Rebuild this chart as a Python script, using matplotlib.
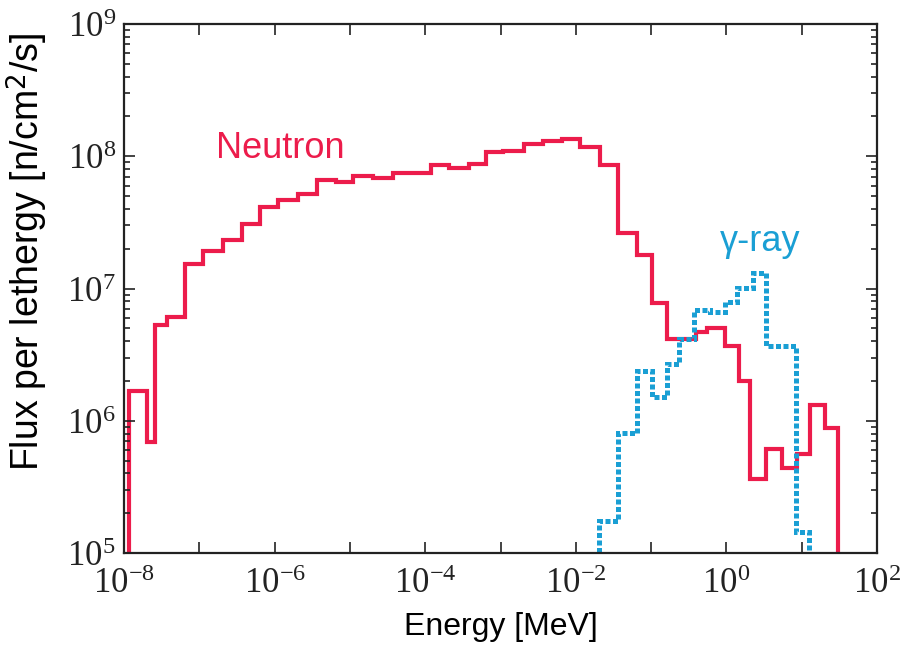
import matplotlib
matplotlib.use("Agg")
import matplotlib.pyplot as plt
from matplotlib.ticker import LogLocator, FuncFormatter, NullLocator
import numpy as np

plt.rcParams['font.family'] = ['Liberation Sans', 'DejaVu Sans']
plt.rcParams['mathtext.fontset'] = 'custom'
plt.rcParams['mathtext.rm'] = 'Liberation Serif'
plt.rcParams['mathtext.it'] = 'Liberation Serif:italic'

# bin edges given as log10(E / MeV), flux per lethargy in n/cm2/s
neutron_log_edges = [-7.930, -7.699, -7.588, -7.433, -7.190, -6.947, -6.689, -6.437,
                     -6.194, -5.951, -5.685, -5.433, -5.185, -4.955, -4.689, -4.432,
                     -4.162, -3.927, -3.680, -3.418, -3.193, -2.963, -2.688, -2.440,
                     -2.187, -1.944, -1.679, -1.436, -1.191, -0.992, -0.793, -0.404,
                     -0.262, -0.019, 0.171, 0.313, 0.526, 0.734, 0.934, 1.110,
                     1.309, 1.486]
neutron_flux = [1.69e6, 6.85e5, 5.34e6, 6.1e6, 1.54e7, 1.92e7, 2.31e7, 3.09e7,
                4.13e7, 4.7e7, 5.2e7, 6.58e7, 6.43e7, 7.05e7, 6.85e7, 7.48e7,
                7.5e7, 8.65e7, 8.15e7, 8.8e7, 1.07e8, 1.09e8, 1.23e8, 1.31e8,
                1.34e8, 1.18e8, 8.55e7, 2.61e7, 1.78e7, 7.83e6, 4.16e6, 4.67e6,
                5.04e6, 3.7e6, 1.99e6, 3.61e5, 6.11e5, 4.39e5, 5.6e5, 1.32e6,
                8.75e5]

gamma_log_edges = [-1.692, -1.436, -1.191, -0.992, -0.793, -0.630, -0.430, -0.218,
                   -0.019, 0.137, 0.357, 0.526, 0.924, 1.101]
gamma_flux = [1.75e5, 8.15e5, 2.39e6, 1.5e6, 2.69e6, 4.16e6, 6.9e6, 6.6e6,
              7.87e6, 1.01e7, 1.31e7, 3.7e6, 1.43e5]

red = '#ec1c4b'
blue = '#1a9fd4'

fig = plt.figure(figsize=(9.06, 6.49), dpi=100)
ax = fig.add_axes([0.1369, 0.1479, 0.8311, 0.8151])

ax.stairs(neutron_flux, 10 ** np.array(neutron_log_edges), baseline=1e3,
          color=red, lw=3.0)
ax.stairs(gamma_flux, 10 ** np.array(gamma_log_edges), baseline=1e3,
          color=blue, lw=3.6, linestyle=(0, (1.0, 0.5)))
for ln in ax.patches:
    ln.set_capstyle('butt')

ax.set_xscale('log')
ax.set_yscale('log')
ax.set_xlim(1e-8, 1e2)
ax.set_ylim(1e5, 1e9)


def decade_label(v, p, every=1):
    n = int(round(np.log10(v)))
    if n % every:
        return ''
    return r'$10^{%d}$' % n


ax.xaxis.set_major_locator(LogLocator(base=10, numticks=20))
ax.xaxis.set_minor_locator(NullLocator())
ax.xaxis.set_major_formatter(FuncFormatter(lambda v, p: decade_label(v, p, 2)))
ax.yaxis.set_major_locator(LogLocator(base=10, numticks=10))
ax.yaxis.set_minor_locator(LogLocator(base=10, subs=np.arange(2, 10), numticks=10))
ax.yaxis.set_major_formatter(FuncFormatter(decade_label))

ax.tick_params(which='both', direction='in', top=True, right=True, width=1.2,
               labelsize=25, colors='#222222', labelcolor='#222222')
ax.tick_params(which='major', length=8)
ax.tick_params(axis='x', pad=10)
ax.tick_params(axis='y', pad=6)
ax.tick_params(which='minor', length=4.5)
for s in ax.spines.values():
    s.set_linewidth(1.6)
    s.set_color('#222222')

ax.set_xlabel('Energy [MeV]', fontsize=23, labelpad=9)
ax.set_ylabel('Flux per lethergy [n/cm$^\\mathsf{2}$/s]', fontsize=27)
ax.yaxis.set_label_coords(-0.098, 0.569)

ax.text(1.18e-6, 1.15e8, 'Neutron', color=red, fontsize=26, ha='center', va='center')
ax.text(2.8, 2.27e7, 'γ-ray', color=blue, fontsize=26, ha='center', va='center')

plt.savefig('out.png', dpi=100)
